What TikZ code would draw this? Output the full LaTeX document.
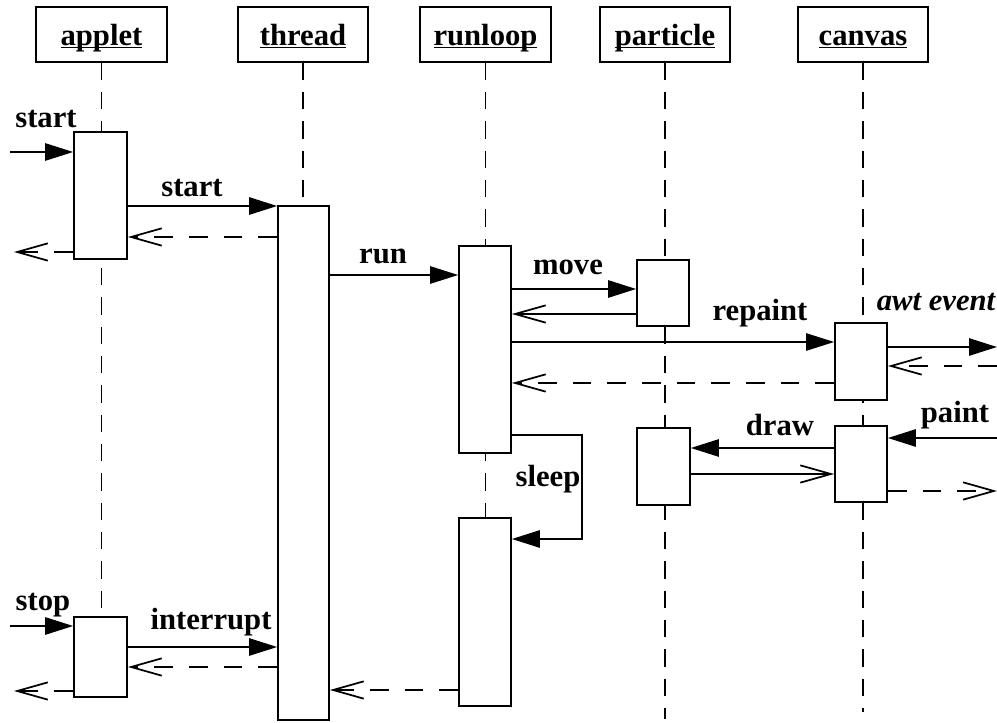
\documentclass[tikz,border=0pt]{standalone}
\usepackage{fontspec}
\setmainfont{Liberation Serif}
\usetikzlibrary{arrows.meta,fit}
\tikzset{every picture/.style={line width=1.3pt}}
\tikzset{
  head/.style={draw, minimum width=98pt, minimum height=41pt, inner sep=0pt, text height=17pt, text depth=1.2pt, font=\fontsize{23}{27}\selectfont\bfseries},
  act/.style={draw, fill=white, inner sep=0pt},
  life/.style={dash pattern=on 13pt off 9pt},
  call/.style={-{Triangle[length=21pt,width=13pt]}},
  ret/.style={-{Straight Barb[length=23pt,width=13pt]}},
  back/.style={ret, dash pattern=on 14pt off 12pt},
  lbl/.style={anchor=base, inner sep=0pt, font=\fontsize{23}{27}\selectfont\bfseries}
}
\newcommand{\headname}[1]{\setbox0\hbox{#1}\rlap{\rule[-2.5pt]{\wd0}{1pt}}\box0}

\begin{document}
\begin{tikzpicture}[x=0.75pt,y=0.75pt,yscale=-1,xscale=1]
    \useasboundingbox (0,0) rectangle (997,723);

    %Shape: Rectangle (objects)
    \node[head] (applet) at (101.5,34.5) {\headname{applet}};
    \node[head] (thread) at (303,34.5) {\headname{thread}};
    \node[head] (runloop) at (485.5,34.5) {\headname{runloop}};
    \node[head] (particle) at (665,34.5) {\headname{particle}};
    \node[head] (canvas) at (863,34.5) {\headname{canvas}};

    %Straight Lines (lifelines)
    \foreach \obj/\bot in {applet/697, thread/720, runloop/706, particle/719, canvas/712}
        \draw[life] (\obj.south) -- (\obj.south |- 0,\bot);

    %Shape: Rectangle (activations)
    \node[act, fit={(74,132)(127,259)}] (a1) {};
    \node[act, fit={(74,617)(127,697)}] (a2) {};
    \node[act, fit={(278,206)(329,720)}] (t1) {};
    \node[act, fit={(459,246)(511,453)}] (r1) {};
    \node[act, fit={(459,518)(511,706)}] (r2) {};
    \node[act, fit={(637,260)(689,326)}] (p1) {};
    \node[act, fit={(637,428)(690,505)}] (p2) {};
    \node[act, fit={(835,323)(887,400)}] (c1) {};
    \node[act, fit={(835,426)(887,502)}] (c2) {};

    %Free ends
    \coordinate (in1) at (10,152);
    \coordinate (out1) at (14,252);
    \coordinate (awt) at (997,347);
    \coordinate (awtback) at (997,366);
    \coordinate (paint) at (997,438);
    \coordinate (out2) at (997,491);
    \coordinate (in2) at (10,626);
    \coordinate (out3) at (14,691);

    %Straight Lines
    \draw[call] (in1) -- (a1.west |- in1);
    \draw[call] (a1.east |- 0,206) -- (t1.west |- 0,206);
    \draw[back] (t1.west |- 0,237) -- (a1.east |- 0,237);
    \draw[back] (a1.west |- out1) -- (out1);
    \draw[call] (t1.east |- 0,275) -- (r1.west |- 0,275);
    \draw[call] (r1.east |- 0,289) -- (p1.west |- 0,289);
    \draw[ret] (p1.west |- 0,314) -- (r1.east |- 0,314);
    \draw[call] (r1.east |- 0,342) -- (c1.west |- 0,342);
    \draw[back] (c1.west |- 0,383) -- (r1.east |- 0,383);
    \draw[call] (c1.east |- awt) -- (awt);
    \draw[back] (awtback) -- (c1.east |- awtback);
    \draw[call] (paint) -- (c2.east |- paint);
    \draw[call] (c2.west |- 0,448) -- (p2.east |- 0,448);
    \draw[ret] (p2.east |- 0,474) -- (c2.west |- 0,474);
    \draw[back] (c2.east |- out2) -- (out2);
    \draw[call] (r1.east |- 0,435) -| (582,539) -- (r2.east |- 0,539);
    \draw[call] (in2) -- (a2.west |- in2);
    \draw[call] (a2.east |- 0,647) -- (t1.west |- 0,647);
    \draw[back] (t1.west |- 0,667) -- (a2.east |- 0,667);
    \draw[back] (a2.west |- out3) -- (out3);
    \draw[back] (r2.west |- 0,690) -- (t1.east |- 0,690);

    % Text Node
    \node[lbl] (lstart) at (46,128) {start};
    % Text Node
    \node[lbl] (lstart2) at (192,197) {start};
    % Text Node
    \node[lbl] (lrun) at (383,264) {run};
    % Text Node
    \node[lbl] (lmove) at (568,275) {move};
    % Text Node
    \node[lbl] (lrepaint) at (760,321) {repaint};
    % Text Node
    \node[lbl, font=\fontsize{23}{27}\selectfont\bfseries\itshape] (lawt) at (936,311) {awt event};
    % Text Node
    \node[lbl] (lpaint) at (955,423) {paint};
    % Text Node
    \node[lbl] (ldraw) at (780,436) {draw};
    % Text Node
    \node[lbl] (lsleep) at (548,487) {sleep};
    % Text Node
    \node[lbl] (lstop) at (43,610) {stop};
    % Text Node
    \node[lbl] (linterrupt) at (211,629) {interrupt};
\end{tikzpicture}
\end{document}
